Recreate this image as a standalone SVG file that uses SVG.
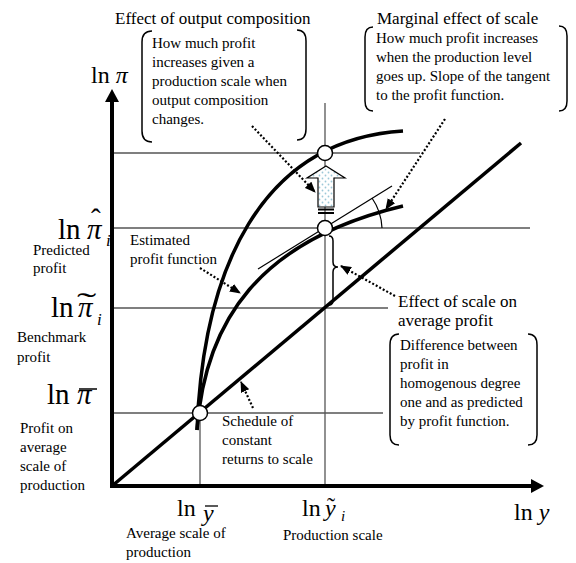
<svg xmlns="http://www.w3.org/2000/svg" width="576" height="563" viewBox="0 0 576 563">
<defs>
<style>
text{font-family:"Liberation Serif","Times New Roman",serif;fill:#000}
.t{font-size:15px}
.h{font-size:17px}
.m{font-size:29px}
.ms{font-size:24px}
.it{font-style:italic}
.grid{stroke:#555;stroke-width:1.3;fill:none}
.thick{stroke:#000;stroke-width:3.5;fill:none;stroke-linecap:butt}
.dot{stroke:#000;stroke-width:2.2;stroke-dasharray:2 2;fill:none}
.br{stroke:#000;stroke-width:1.5;fill:none}
.pt{fill:#fff;stroke:#000;stroke-width:1.5}
</style>
<marker id="ah" markerWidth="11" markerHeight="9" refX="10" refY="4.5" orient="auto" markerUnits="userSpaceOnUse">
<path d="M0,0 L11,4.5 L0,9 Z" fill="#000"/>
</marker>
<pattern id="dots" width="6" height="6" patternUnits="userSpaceOnUse">
<rect width="6" height="6" fill="#fff"/>
<circle cx="1.5" cy="1.5" r="0.9" fill="#9cc8d8"/>
<circle cx="4.5" cy="4.5" r="0.9" fill="#9cc8d8"/>
</pattern>
</defs>

<g id="grid">
<line class="grid" x1="112" y1="153" x2="420" y2="153"/>
<line class="grid" x1="112" y1="228" x2="530" y2="228"/>
<line class="grid" x1="112" y1="308" x2="388" y2="308"/>
<line class="grid" x1="112" y1="413" x2="383" y2="413"/>
<line class="grid" x1="325" y1="103" x2="325" y2="486"/>
<line class="grid" x1="200" y1="413" x2="200" y2="486"/>
</g>

<g id="axes">
<line x1="112" y1="488" x2="112" y2="100" stroke="#000" stroke-width="4"/>
<path d="M112,89 L119,102 L105,102 Z" fill="#000"/>
<line x1="110" y1="486" x2="533" y2="486" stroke="#000" stroke-width="4"/>
<path d="M544,486 L531,479 L531,493 Z" fill="#000"/>
</g>

<g id="connectors">
<line class="thick" x1="112" y1="486" x2="521" y2="143"/>
<path class="thick" d="M197,430 C203,270 260,140 403,131"/>
<path class="thick" d="M197,430 C205,320 260,240 403,206"/>
<line x1="258" y1="269" x2="392" y2="186" stroke="#000" stroke-width="1.2"/>
<path d="M382,228 A57,57 0 0 0 372,198" stroke="#000" stroke-width="1.2" fill="none"/>
<path class="br" d="M329,236 Q333,236 333,241 L333,262 Q333,267 338,267 Q333,267 333,272 L333,300 Q333,305 329,305"/>
<line class="dot" x1="252" y1="126" x2="315" y2="192" marker-end="url(#ah)"/>
<line class="dot" x1="445" y1="119" x2="386" y2="209" marker-end="url(#ah)"/>
<line class="dot" x1="200" y1="268" x2="240" y2="293" marker-end="url(#ah)"/>
<line class="dot" x1="395" y1="296" x2="341" y2="266" marker-end="url(#ah)"/>
<line class="dot" x1="253" y1="408" x2="241" y2="382" marker-end="url(#ah)"/>
</g>

<g id="block-arrow">
<path d="M318,207 L318,178 L307,178 L326,166 L345,178 L334,178 L334,207 Z" fill="url(#dots)" stroke="#000" stroke-width="1.2"/>
<line x1="318" y1="209.5" x2="334" y2="209.5" stroke="#000" stroke-width="2"/>
<line x1="318" y1="213" x2="334" y2="213" stroke="#000" stroke-width="2"/>
</g>

<g id="points">
<circle class="pt" cx="200" cy="413" r="7.5"/>
<circle class="pt" cx="325" cy="153" r="7.5"/>
<circle class="pt" cx="325" cy="228" r="7.5"/>
</g>

<g id="box-composition">
<text class="h" x="115" y="24">Effect of output composition</text>
<path class="br" d="M152,31 Q142,31 142,42 L142,131 Q142,142 152,142"/>
<path class="br" d="M297,30 Q306,30 306,41 L306,129 Q306,140 297,140"/>
<text class="t" x="152" y="48">How much profit</text>
<text class="t" x="152" y="67">increases given a</text>
<text class="t" x="152" y="86">production scale when</text>
<text class="t" x="152" y="105">output composition</text>
<text class="t" x="152" y="124">changes.</text>
</g>

<g id="box-marginal">
<text class="h" x="377" y="24">Marginal effect of scale</text>
<path class="br" d="M373,27 Q365,27 365,37 L365,101 Q365,111 373,111"/>
<path class="br" d="M559,26 Q567,26 567,36 L567,101 Q567,111 559,111"/>
<text class="t" x="376" y="43">How much profit increases</text>
<text class="t" x="376" y="62">when the production level</text>
<text class="t" x="376" y="81">goes up. Slope of the tangent</text>
<text class="t" x="376" y="100">to the profit function.</text>
</g>

<g id="box-scale">
<text class="h" x="398" y="307">Effect of scale on</text>
<text class="h" x="398" y="326">average profit</text>
<path class="br" d="M399,334 Q390,334 390,345 L390,435 Q390,445 399,445"/>
<path class="br" d="M528,334 Q537,334 537,345 L537,435 Q537,445 528,445"/>
<text class="t" x="400" y="350">Difference between</text>
<text class="t" x="400" y="369">profit in</text>
<text class="t" x="400" y="388">homogenous degree</text>
<text class="t" x="400" y="407">one and as predicted</text>
<text class="t" x="400" y="426">by profit function.</text>
</g>

<g id="labels">
<text class="ms" x="91" y="83">ln <tspan class="it">π</tspan></text>

<text class="m" x="58" y="239">ln</text>
<text class="m it" x="87" y="239">π</text>
<text class="m" x="91" y="229">ˆ</text>
<text class="it" x="106" y="246" font-size="17">i</text>
<text class="t" x="33" y="255">Predicted</text>
<text class="t" x="33" y="273">profit</text>

<text class="m" x="51" y="317">ln</text>
<text class="m it" x="78" y="317">π</text>
<text class="m" transform="translate(77,313) scale(2,1)">˜</text>
<text class="it" x="97" y="325" font-size="17">i</text>
<text class="t" x="17" y="342">Benchmark</text>
<text class="t" x="17" y="362">profit</text>

<text class="m" x="47" y="404">ln</text>
<text class="m it" x="77" y="404">π</text>
<line x1="79" y1="389" x2="97" y2="389" stroke="#000" stroke-width="1.5"/>
<text class="t" x="20" y="433">Profit on</text>
<text class="t" x="20" y="452">average</text>
<text class="t" x="20" y="471">scale of</text>
<text class="t" x="20" y="490">production</text>

<text class="t" x="222" y="426">Schedule of</text>
<text class="t" x="222" y="445">constant</text>
<text class="t" x="222" y="464">returns to scale</text>

<text class="t" x="130" y="245">Estimated</text>
<text class="t" x="130" y="264">profit function</text>

<text class="ms" x="177" y="516">ln</text>
<text class="ms it" x="203" y="521">y</text>
<line x1="205" y1="506" x2="218" y2="506" stroke="#000" stroke-width="1.3"/>
<text class="t" x="126" y="538">Average scale of</text>
<text class="t" x="126" y="557">production</text>

<text class="ms" x="302" y="516">ln</text>
<text class="ms it" x="325" y="516">y</text>
<text class="ms" x="327" y="514">˜</text>
<text class="it" x="341" y="521" font-size="15">i</text>
<text class="t" x="283" y="540">Production scale</text>

<text class="ms" x="514" y="520">ln <tspan class="it">y</tspan></text>
</g>
</svg>
